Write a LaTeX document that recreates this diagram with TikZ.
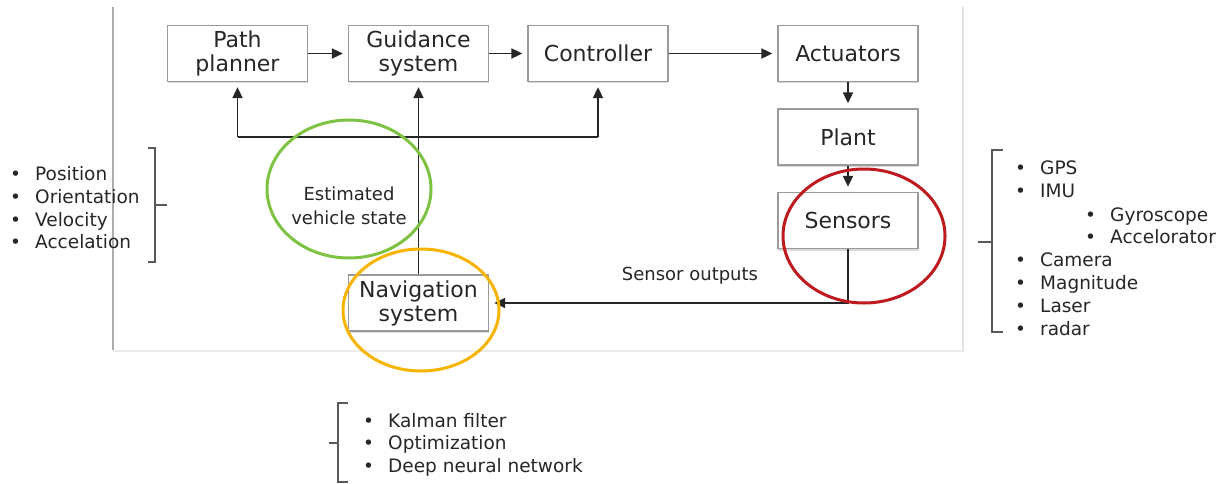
\documentclass[tikz,border=0pt]{standalone}
\usepackage{fontspec}
\setmainfont{DejaVu Sans}
\usetikzlibrary{arrows.meta,shadows}
\definecolor{ink}{HTML}{262626}
\definecolor{boxline}{HTML}{9A9A9A}
\definecolor{ringgreen}{HTML}{7DC242}
\definecolor{ringorange}{HTML}{F6B400}
\definecolor{ringred}{HTML}{BE1A20}
\tikzset{
  block/.style={draw=boxline, line width=1.3pt, fill=white, minimum width=140pt,
    minimum height=56pt, inner sep=0pt, align=center, text=ink,
    font=\fontsize{22}{24}\selectfont,
    drop shadow={shadow xshift=0pt, shadow yshift=-2pt, opacity=0.3}},
  wire/.style={draw=ink, line width=1.8pt},
  arr/.style={wire, -{Triangle[length=11pt,width=10pt]}, shorten >=5pt},
  caption/.style={text=ink, font=\fontsize{18}{24}\selectfont, align=center, inner sep=0pt},
  item/.style={anchor=base west, inner sep=0pt, text=ink,
    font=\fontsize{18.5}{22}\selectfont},
  brace/.style={draw=black!65, line width=2pt},
  ring/.style={line width=3pt},
}
\newcommand{\itembullet}[1]{\makebox[25pt][l]{•}#1}
\begin{document}
\begin{tikzpicture}[x=1pt,y=-1pt]
  \useasboundingbox (0,0) rectangle (1225,484);

  % frame of the block diagram
  \draw[black!32, line width=1.5pt] (113,7) -- (113,350);
  \draw[black!12, line width=1.5pt] (963,7) -- (963,352);
  \draw[black!8, line width=1.5pt] (113,351) -- (963,351);

  % blocks
  \node[block] (path)  at (237.5,53.5) {Path\\planner};
  \node[block] (guid)  at (418.5,53.5) {Guidance\\system};
  \node[block] (ctrl)  at (598,53.5)   {Controller};
  \node[block] (act)   at (848,53.5)   {Actuators};
  \node[block] (plant) at (848,137)    {Plant};
  \node[block] (sens)  at (848,220.5)  {Sensors};
  \node[block] (nav)   at (418.5,303)  {Navigation\\system};

  % forward chain
  \draw[arr] (path) -- (guid);
  \draw[arr] (guid) -- (ctrl);
  \draw[arr] (ctrl) -- (act);
  \draw[arr] (act) -- (plant);
  \draw[arr] (plant) -- (sens);

  % sensor outputs to navigation
  \draw[arr] (sens.south) |- (nav.east);
  \node[caption] (sout) at (690,276) {Sensor outputs};

  % estimated state fed back
  \coordinate (fbl) at (237.5,137);
  \coordinate (fbr) at (598,137);
  \draw[wire] (fbl) -- (fbr);
  \draw[arr] (fbl) -- (path.south);
  \draw[arr] (fbr) -- (ctrl.south);
  \draw[arr] (nav.north) -- (guid.south);
  \node[caption] (est) at (349,206) {Estimated\\vehicle state};

  % highlight rings
  \draw[ring, ringgreen]  (349,189) ellipse [x radius=82, y radius=69];
  \draw[ring, ringorange] (421,310) ellipse [x radius=78, y radius=61];
  \draw[ring, ringred]    (864,236) ellipse [x radius=81, y radius=67];

  % vehicle state list
  \draw[brace] (148,148) -- (155,148) -- (155,262) -- (148,262);
  \draw[brace] (155,205) -- (167,205);
  \foreach \t [count=\i] in {Position,Orientation,Velocity,Accelation}
    \node[item] (st\i) at (10,{158+22.7*\i}) {\itembullet{\t}};

  % sensor list
  \draw[brace] (1003,150) -- (992,150) -- (992,332) -- (1003,332);
  \draw[brace] (992,242) -- (978,242);
  \node[item] (s1) at (1015,174) {\itembullet{GPS}};
  \node[item] (s2) at (1015,197) {\itembullet{IMU}};
  \node[item] (s3) at (1085,221) {\itembullet{Gyroscope}};
  \node[item] (s4) at (1085,243) {\itembullet{Accelorator}};
  \node[item] (s5) at (1015,266) {\itembullet{Camera}};
  \node[item] (s6) at (1015,289) {\itembullet{Magnitude}};
  \node[item] (s7) at (1015,312) {\itembullet{Laser}};
  \node[item] (s8) at (1015,335) {\itembullet{radar}};

  % navigation methods list
  \draw[brace] (348,403) -- (338,403) -- (338,482) -- (348,482);
  \draw[brace] (338,443) -- (329,443);
  \node[item] (n1) at (363,427) {\itembullet{Kalman filter}};
  \node[item] (n2) at (363,449.5) {\itembullet{Optimization}};
  \node[item] (n3) at (363,472) {\itembullet{Deep neural network}};
\end{tikzpicture}
\end{document}
